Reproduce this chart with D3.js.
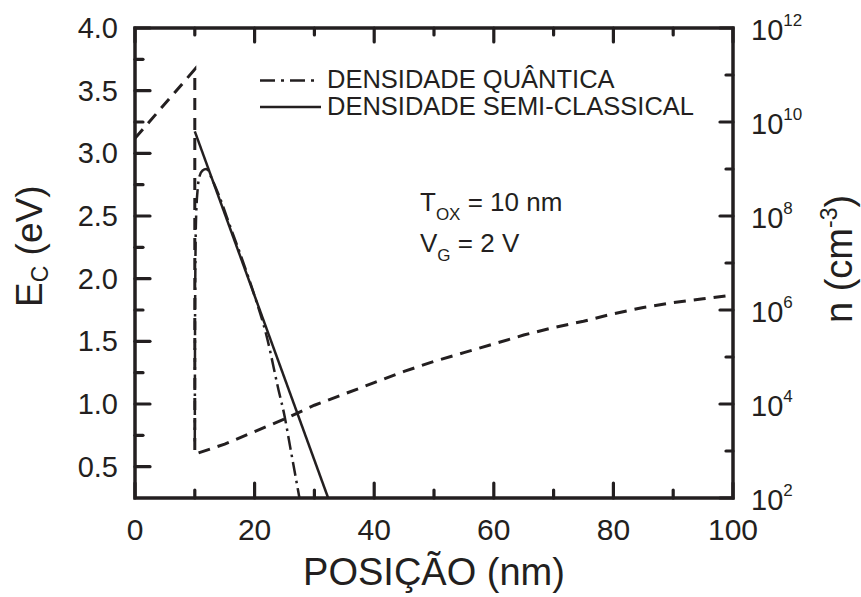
<!DOCTYPE html>
<html><head><meta charset="utf-8">
<script src="https://cdn.jsdelivr.net/npm/d3@7"></script>
<style>
html,body{margin:0;padding:0;background:#fff;}
text{font-family:"Liberation Sans",Arial,sans-serif;fill:#231f20;}
</style></head>
<body><svg id="c" width="861" height="597"></svg>
<script>
// ---- data ----
const ecX = [0, 10, 10, 15, 20, 25, 30, 35, 40, 45, 50, 55, 60, 65, 70, 75, 80, 85, 90, 95, 100];
const ecY = [3.12, 3.67, 0.60, 0.68, 0.78, 0.88, 0.99, 1.08, 1.17, 1.26, 1.34, 1.41, 1.48, 1.55, 1.61, 1.66, 1.72, 1.77, 1.81, 1.84, 1.87];
const quantX = [10.0, 10.05, 10.2, 10.5, 10.8, 11.3, 11.9, 13, 14, 16, 18, 20, 22, 24, 25, 26, 27, 27.5];
const quantLog = [3.2, 6.0, 7.9, 8.6, 8.85, 8.97, 9.0, 8.75, 8.45, 7.75, 7.05, 6.3, 5.45, 4.3, 3.75, 3.05, 2.35, 2.0];
const semiX = [10, 32.3];
const semiLog = [9.8, 2.0];
const xTicks = [0, 20, 40, 60, 80, 100];
const xMinor = [10, 30, 50, 70, 90];
const yTicks = [0.5, 1.0, 1.5, 2.0, 2.5, 3.0, 3.5, 4.0];
const yMinor = [0.75, 1.25, 1.75, 2.25, 2.75, 3.25, 3.75];
const nExp = [2, 4, 6, 8, 10, 12];
const nMinorExp = [3, 5, 7, 9, 11];
const legendLabels = ["DENSIDADE QUÂNTICA", "DENSIDADE SEMI-CLASSICAL"];

// ---- layout ----
const L = 135, R = 733, T = 28, B = 498;
const col = "#231f20";
const svg = d3.select("#c");
const x = d3.scaleLinear().domain([0, 100]).range([L, R]);
const y = d3.scaleLinear().domain([0.25, 4.0]).range([B, T]);
const yn = d3.scaleLog().domain([1e2, 1e12]).range([B, T]);

// ---- curves ----
svg.append("clipPath").attr("id", "pc").append("rect")
  .attr("x", L).attr("y", T).attr("width", R - L).attr("height", B - T);
const g = svg.append("g").attr("clip-path", "url(#pc)");

const lineEc = d3.line().x(d => x(d[0])).y(d => y(d[1]));
g.append("path").datum(ecX.map((v, i) => [v, ecY[i]]))
  .attr("d", lineEc).attr("fill", "none").attr("stroke", col)
  .attr("stroke-width", 3).attr("stroke-dasharray", "12,8");

const lineN = d3.line().x(d => x(d[0])).y(d => yn(Math.pow(10, d[1])));
g.append("path").datum(semiX.map((v, i) => [v, semiLog[i]]))
  .attr("d", lineN).attr("fill", "none").attr("stroke", col).attr("stroke-width", 2.5);
g.append("path").datum(quantX.map((v, i) => [v, quantLog[i]]))
  .attr("d", d3.line().curve(d3.curveMonotoneX).x(d => x(d[0])).y(d => yn(Math.pow(10, d[1]))))
  .attr("fill", "none").attr("stroke", col).attr("stroke-width", 2.5)
  .attr("stroke-dasharray", "14,5,2.5,5");

// ---- axes ----
const ax = svg.append("g");
function tick(x1, y1, x2, y2) {
  ax.append("line").attr("x1", x1).attr("y1", y1).attr("x2", x2).attr("y2", y2)
    .attr("stroke", col).attr("stroke-width", 3.2).attr("stroke-linecap", "round");
}
xTicks.forEach(v => { tick(x(v), B, x(v), B - 15); tick(x(v), T, x(v), T + 14); });
xMinor.forEach(v => { tick(x(v), B, x(v), B - 8); tick(x(v), T, x(v), T + 7); });
yTicks.forEach(v => tick(L, y(v), L + 15, y(v)));
yMinor.forEach(v => tick(L, y(v), L + 8, y(v)));
nExp.forEach(e => tick(R, yn(Math.pow(10, e)), R - 13, yn(Math.pow(10, e))));
nMinorExp.forEach(e => tick(R, yn(Math.pow(10, e)), R - 7, yn(Math.pow(10, e))));
ax.append("rect").attr("x", L).attr("y", T).attr("width", R - L).attr("height", B - T)
  .attr("fill", "none").attr("stroke", col).attr("stroke-width", 3.5);

// tick labels
xTicks.forEach(v => svg.append("text").attr("x", x(v)).attr("y", 540)
  .attr("text-anchor", "middle").attr("font-size", 30).text(v));
yTicks.forEach(v => svg.append("text").attr("x", 118).attr("y", y(v) + 10)
  .attr("text-anchor", "end").attr("font-size", 29).text(d3.format(".1f")(v)));
nExp.forEach(e => {
  const t = svg.append("text").attr("x", 751).attr("y", yn(Math.pow(10, e)) + 12)
    .attr("font-size", 29);
  t.append("tspan").text("10");
  t.append("tspan").attr("font-size", 17).attr("dy", -14).text(e);
});

// axis titles
svg.append("text").attr("x", (L + R) / 2).attr("y", 585).attr("text-anchor", "middle")
  .attr("font-size", 38).text("POSIÇÃO (nm)");
const yl = svg.append("text").attr("transform", "translate(42,307) rotate(-90)")
  .attr("font-size", 37);
yl.append("tspan").text("E");
yl.append("tspan").attr("font-size", 23).attr("dy", 6).text("C");
yl.append("tspan").attr("dy", -6).text(" (eV)");
const rl = svg.append("text").attr("transform", "translate(852,323) rotate(-90)")
  .attr("font-size", 38);
rl.append("tspan").text("n (cm");
rl.append("tspan").attr("font-size", 23).attr("dy", -15).text("-3");
rl.append("tspan").attr("dy", 15).text(")");

// legend
svg.append("line").attr("x1", 260).attr("x2", 318).attr("y1", 80.5).attr("y2", 80.5)
  .attr("stroke", col).attr("stroke-width", 2.5).attr("stroke-dasharray", "15,6,3,6");
svg.append("line").attr("x1", 260).attr("x2", 321).attr("y1", 107).attr("y2", 107)
  .attr("stroke", col).attr("stroke-width", 2.5);
legendLabels.forEach((s, i) => svg.append("text").attr("x", 327).attr("y", 88 + i * 26.5)
  .attr("font-size", 25.5).text(s));

// annotation
const t1 = svg.append("text").attr("x", 420).attr("y", 211).attr("font-size", 26);
t1.append("tspan").text("T");
t1.append("tspan").attr("font-size", 17).attr("dy", 9).text("OX");
t1.append("tspan").attr("dy", -9).text(" = 10 nm");
const t2 = svg.append("text").attr("x", 420).attr("y", 252).attr("font-size", 26);
t2.append("tspan").text("V");
t2.append("tspan").attr("font-size", 17).attr("dy", 9).text("G");
t2.append("tspan").attr("dy", -9).text(" = 2 V");
</script></body></html>
